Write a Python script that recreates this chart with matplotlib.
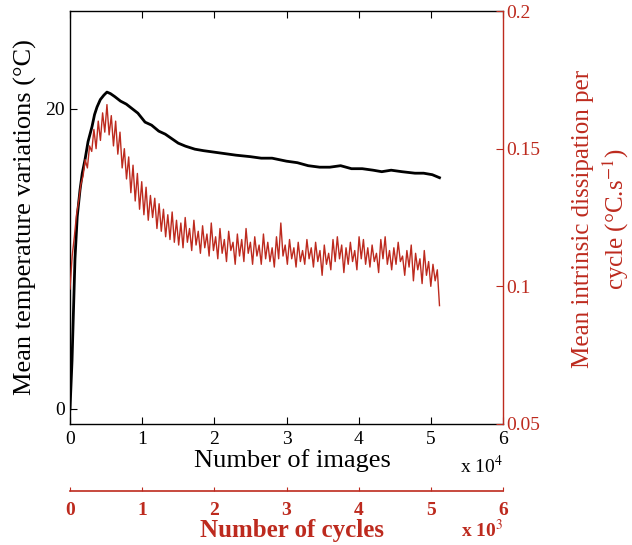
import numpy as np
from matplotlib import pyplot as plt

plt.rcParams['font.family'] = ['Liberation Serif', 'DejaVu Serif']
plt.rcParams['mathtext.fontset'] = 'stix'

#%% datos leidos de la figura
# temperatura media (eje izquierdo), x en numero de imagenes
img_T = [0, 280, 690, 1000, 1390, 1700, 2080, 2500, 3050, 3400, 3740, 4200, 4700, 5120,
         5600, 6200, 7000, 7800, 8600, 9400, 10400, 11300, 12300, 13200, 14100, 15000,
         16000, 17300, 18500, 20000, 21500, 23000, 25000, 26500, 28000, 30000, 31500,
         33000, 34600, 36000, 37500, 39000, 40500, 42000, 43200, 44500, 46000, 47800,
         49000, 50200, 51200]
temp = [0.0, 3.2, 10.0, 12.8, 14.6, 15.7, 16.6, 17.8, 18.8, 19.6, 20.1, 20.6, 20.9, 21.1,
        21.0, 20.8, 20.5, 20.3, 20.0, 19.7, 19.1, 18.9, 18.5, 18.3, 18.0, 17.7,
        17.5, 17.3, 17.2, 17.1, 17.0, 16.9, 16.8, 16.7, 16.7, 16.5, 16.4,
        16.2, 16.1, 16.1, 16.2, 16.0, 16.0, 15.9, 15.8, 15.9, 15.8, 15.7,
        15.7, 15.6, 15.4]

# disipacion intrinseca media por ciclo (eje derecho)
dis = [0.099, 0.111, 0.118, 0.126, 0.131, 0.137, 0.140, 0.146, 0.143, 0.151,
       0.149, 0.157, 0.150, 0.160, 0.153, 0.163, 0.156, 0.166, 0.155, 0.162,
       0.151, 0.160, 0.148, 0.156, 0.143, 0.150, 0.139, 0.147, 0.134, 0.144,
       0.131, 0.141, 0.128, 0.138, 0.126, 0.136, 0.124, 0.133, 0.125, 0.132,
       0.121, 0.130, 0.120, 0.128, 0.118, 0.126, 0.117, 0.127, 0.116, 0.124,
       0.115, 0.123, 0.114, 0.125, 0.116, 0.121, 0.113, 0.124, 0.115, 0.120,
       0.112, 0.122, 0.114, 0.119, 0.111, 0.123, 0.113, 0.118, 0.110, 0.121,
       0.112, 0.117, 0.109, 0.120, 0.113, 0.116, 0.108, 0.119, 0.111, 0.117,
       0.109, 0.121, 0.112, 0.116, 0.108, 0.118, 0.111, 0.115, 0.108, 0.119,
       0.110, 0.116, 0.109, 0.114, 0.107, 0.118, 0.110, 0.123, 0.111, 0.115,
       0.108, 0.117, 0.110, 0.114, 0.107, 0.116, 0.109, 0.113, 0.108, 0.117,
       0.110, 0.114, 0.107, 0.116, 0.109, 0.113, 0.104, 0.115, 0.108, 0.112,
       0.106, 0.117, 0.109, 0.118, 0.110, 0.115, 0.105, 0.114, 0.108, 0.116,
       0.109, 0.113, 0.106, 0.118, 0.110, 0.117, 0.108, 0.114, 0.107, 0.115,
       0.109, 0.112, 0.105, 0.117, 0.110, 0.118, 0.108, 0.113, 0.106, 0.114,
       0.108, 0.116, 0.109, 0.111, 0.104, 0.113, 0.107, 0.115, 0.102, 0.112,
       0.106, 0.110, 0.101, 0.113, 0.104, 0.109, 0.100, 0.108, 0.102, 0.106,
       0.093]
img_dis = np.linspace(0, 51200, len(dis))

rojo = '#bd2a1e'

#%% figura
fig = plt.figure(figsize=(6.32, 5.45), dpi=100)
ax = fig.add_axes([70/632, 121/545, 433/632, 413/545])
ax.plot(img_T, temp, color='black', lw=2.0)
ax.set_xlim(0, 60000)
ax.set_ylim(-1, 26.5)
ax.set_yticks([0, 20])
ax.set_xticks([0, 10000, 20000, 30000, 40000, 50000, 60000])
ax.set_xticklabels(['0', '1', '2', '3', '4', '5', '6'])
ax.tick_params(direction='in', top=True, labelsize=14, length=5, width=0.8)
ax.tick_params(axis='x', pad=5)
ax.spines['right'].set_visible(False)
for s in ['left', 'bottom', 'top']:
    ax.spines[s].set_linewidth(1.0)
ax.set_ylabel('Mean temperature variations (°C)', fontsize=19, labelpad=6)
fig.text(292/632, 1 - 461/545, 'Number of images', fontsize=19, ha='center', va='center')
fig.text(503/632, 1 - 466/545, r'x 10$^4$', fontsize=14, ha='right', va='center')

ax2 = ax.twinx()
ax2.plot(img_dis, dis, color=rojo, lw=1.0)
ax2.set_ylim(0.05, 0.2)
ax2.set_yticks([0.05, 0.1, 0.15, 0.2])
ax2.set_yticklabels(['0.05', '0.1', '0.15', '0.2'])
ax2.tick_params(direction='in', colors=rojo, labelsize=14, length=5, width=0.8, pad=2)
ax2.spines['right'].set_color(rojo)
ax2.spines['right'].set_linewidth(1.0)
for s in ['left', 'bottom', 'top']:
    ax2.spines[s].set_visible(False)
fig.text(583/632, 1 - 219/545, 'Mean intrinsic dissipation per', color=rojo, fontsize=18,
         rotation=90, ha='center', va='center')
fig.text(616/632, 1 - 219/545, 'cycle (°C.s$^{-1}$)', color=rojo, fontsize=18,
         rotation=90, ha='center', va='center')

# segundo eje x (numero de ciclos)
ax3 = fig.add_axes([70/632, 54/545, 433/632, 0.0001])
ax3.set_xlim(0, 6)
ax3.set_xticks([0, 1, 2, 3, 4, 5, 6])
ax3.set_yticks([])
for s in ['left', 'right', 'top']:
    ax3.spines[s].set_visible(False)
ax3.spines['bottom'].set_color(rojo)
ax3.spines['bottom'].set_linewidth(1.2)
ax3.tick_params(axis='x', direction='in', colors=rojo, labelsize=14, length=3,
                width=0.8, pad=8)
for t in ax3.get_xticklabels():
    t.set_fontweight('bold')
fig.text(292/632, 1 - 531/545, 'Number of cycles', color=rojo, fontsize=18,
         fontweight='bold', ha='center', va='center')
fig.text(503/632, 1 - 530/545, r'x 10$^3$', fontsize=14, color=rojo, fontweight='bold',
         ha='right', va='center')

plt.savefig('out.png', dpi=100)
